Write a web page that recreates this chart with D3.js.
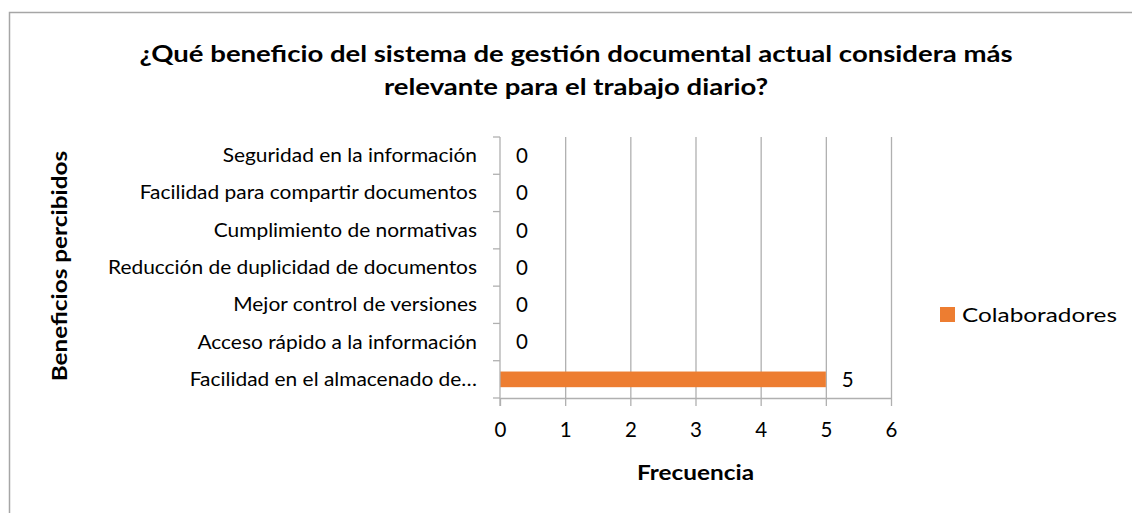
<!DOCTYPE html>
<html>
<head>
<meta charset="utf-8">
<script src="https://cdn.jsdelivr.net/npm/d3@7"></script>
<style>
  html, body { margin: 0; padding: 0; background: #fff; }
  svg { display: block; font-family: Lato, "Open Sans", sans-serif; }
</style>
</head>
<body>
<div id="chart"></div>
<script>
// data (bottom to top as drawn)
const categories = [
  "Facilidad en el almacenado de…",
  "Acceso rápido a la información",
  "Mejor control de versiones",
  "Reducción de duplicidad de documentos",
  "Cumplimiento de normativas",
  "Facilidad para compartir documentos",
  "Seguridad en la información"
];
const colaboradores = [5, 0, 0, 0, 0, 0, 0];
const xTicks = [0, 1, 2, 3, 4, 5, 6];
const seriesName = "Colaboradores";
const titleLines = [
  "¿Qué beneficio del sistema de gestión documental actual considera más",
  "relevante para el trabajo diario?"
];

const W = 1132, H = 513;
const plot = { left: 500, right: 891, top: 137, bottom: 398 };
const grey = "#b0b0b0";
const orange = "#ED7D31";

const svg = d3.select("#chart").append("svg")
  .attr("width", W).attr("height", H);

// chart frame (runs off the right and bottom edge)
svg.append("rect")
  .attr("x", 9.5).attr("y", 12.5)
  .attr("width", W + 20).attr("height", H + 20)
  .attr("fill", "#fff").attr("stroke", "#a6a6a6").attr("stroke-width", 1.5);

// Lato is wider than Calibri for the same glyph height, so squeeze text a bit
function squeeze(sel, k) {
  sel.each(function() {
    const w = this.getComputedTextLength();
    d3.select(this).attr("textLength", w * k).attr("lengthAdjust", "spacingAndGlyphs");
  });
}
function ratio(text, fs, weight, width) {
  const p = svg.append("text").attr("font-size", fs).attr("font-weight", weight).text(text);
  const w = p.node().getComputedTextLength();
  p.remove();
  return width / w;
}

const labelSize = 18.5;
const kLabel = ratio(categories[3], labelSize, "normal", 369);
const digitSize = 20.5;
const titleSize = 22.5;
const kTitle = ratio(titleLines[0], titleSize, "bold", 873);
const axisTitleSize = 20;
const kAxis = ratio("Frecuencia", axisTitleSize, "bold", 117);
const legendSize = 19.5;
const kLegend = ratio(seriesName, legendSize, "normal", 155);

// title
svg.append("g").attr("font-weight", "bold").attr("fill", "#000")
  .selectAll("text").data(titleLines).join("text")
  .attr("x", 576).attr("y", (d, i) => 62 + i * 33)
  .attr("text-anchor", "middle").attr("font-size", titleSize)
  .text(d => d)
  .call(squeeze, kTitle);

const x = d3.scaleLinear().domain([0, 6]).range([plot.left, plot.right]);
const y = d3.scaleBand().domain(categories)
  .range([plot.bottom, plot.top]).paddingInner(0.58).paddingOuter(0.29);
const yStep = (plot.bottom - plot.top) / categories.length;

// vertical gridlines
svg.append("g").selectAll("line").data(xTicks.slice(1)).join("line")
  .attr("x1", d => x(d) + 0.5).attr("x2", d => x(d) + 0.5)
  .attr("y1", plot.top).attr("y2", plot.bottom)
  .attr("stroke", grey).attr("stroke-width", 1.3);

// bars
svg.append("g").selectAll("rect").data(categories).join("rect")
  .attr("x", x(0))
  .attr("y", d => y(d))
  .attr("width", (d, i) => x(colaboradores[i]) - x(0))
  .attr("height", y.bandwidth())
  .attr("fill", orange);

// x axis
const xAxis = svg.append("g").attr("transform", `translate(0,${plot.bottom})`)
  .call(d3.axisBottom(x).tickValues(xTicks).tickFormat(d3.format("d"))
    .tickSize(8).tickPadding(12).tickSizeOuter(0));
xAxis.attr("font-size", digitSize).attr("font-family", null);
xAxis.select(".domain").attr("stroke", grey).attr("stroke-width", 1.3);
xAxis.selectAll(".tick line").attr("stroke", grey).attr("stroke-width", 1.3);
xAxis.selectAll(".tick text").attr("fill", "#000").attr("dy", "0.95em");

// y axis: line plus ticks at band boundaries
const yAxis = svg.append("g");
yAxis.append("line")
  .attr("x1", plot.left).attr("x2", plot.left)
  .attr("y1", plot.top).attr("y2", plot.bottom + 8)
  .attr("stroke", grey).attr("stroke-width", 1.3);
yAxis.selectAll("line.tk").data(d3.range(categories.length + 1)).join("line")
  .attr("class", "tk")
  .attr("x1", plot.left - 7).attr("x2", plot.left)
  .attr("y1", i => plot.bottom - i * yStep).attr("y2", i => plot.bottom - i * yStep)
  .attr("stroke", grey).attr("stroke-width", 1.3);
yAxis.selectAll("text").data(categories).join("text")
  .attr("x", plot.left - 23)
  .attr("y", d => y(d) + y.bandwidth() / 2)
  .attr("dy", "0.35em")
  .attr("text-anchor", "end")
  .attr("font-size", labelSize)
  .attr("fill", "#000")
  .text(d => d)
  .call(squeeze, kLabel);

// value labels
svg.append("g").selectAll("text").data(categories).join("text")
  .attr("x", (d, i) => x(colaboradores[i]) + 16)
  .attr("y", d => y(d) + y.bandwidth() / 2)
  .attr("dy", "0.36em")
  .attr("font-size", digitSize)
  .attr("fill", "#000")
  .text((d, i) => colaboradores[i]);

// axis titles
svg.append("text")
  .attr("x", (plot.left + plot.right) / 2).attr("y", 480)
  .attr("text-anchor", "middle").attr("font-weight", "bold")
  .attr("font-size", axisTitleSize).text("Frecuencia")
  .call(squeeze, kAxis);
svg.append("text")
  .attr("transform", "translate(67,266) rotate(-90)")
  .attr("text-anchor", "middle").attr("font-weight", "bold")
  .attr("font-size", axisTitleSize).text("Beneficios percibidos")
  .call(squeeze, kAxis);

// legend
const legend = svg.append("g").attr("transform", "translate(940,307)");
legend.append("rect").attr("width", 15).attr("height", 15).attr("fill", orange);
legend.append("text").attr("x", 22).attr("y", 7.5).attr("dy", "0.36em")
  .attr("font-size", legendSize).text(seriesName)
  .call(squeeze, kLegend);
</script>
</body>
</html>
